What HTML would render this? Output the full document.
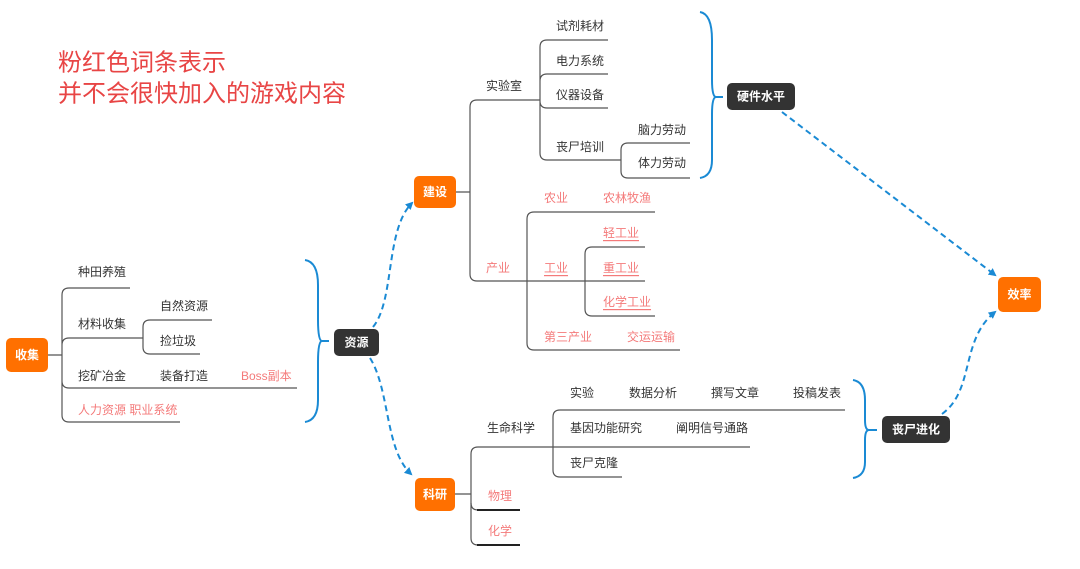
<!DOCTYPE html>
<html><head><meta charset="utf-8"><style>
html,body{margin:0;padding:0;background:#fff;}
svg{display:block;}
text{font-family:"Liberation Sans","Noto Sans CJK SC",sans-serif;font-size:12px;fill:#333;dominant-baseline:central;}
.p{fill:#f47a7a;}
.w{fill:#fff;font-weight:bold;text-anchor:middle;}
.t{fill:#e84545;font-size:24px;}
.l{stroke:#555;stroke-width:1.2;fill:none;}
.b{stroke:#1a8ad4;stroke-width:2;fill:none;}
.d{stroke:#1a8ad4;stroke-width:2;fill:none;stroke-dasharray:6,4;}
</style></head><body>
<svg width="1080" height="569" viewBox="0 0 1080 569" xmlns="http://www.w3.org/2000/svg">
<defs><marker id="a" markerWidth="8" markerHeight="8" refX="6" refY="4" orient="auto" markerUnits="userSpaceOnUse"><path d="M0,0 L8,4 L0,8 Z" fill="#1a8ad4"/></marker></defs>
<text class="t" x="58" y="63">粉红色词条表示</text>
<text class="t" x="58" y="94">并不会很快加入的游戏内容</text>

<!-- 收集 -->
<rect x="6" y="338" width="42" height="34" rx="5" fill="#ff7000"/>
<text class="w" x="27" y="355">收集</text>
<path class="l" d="M48,355 H62 M62,295 Q62,288 69,288 H130 M62,295 V415 Q62,422 69,422 H180 M62,345 Q62,338 69,338 H143 M62,381 Q62,388 69,388 H297"/>
<path class="l" d="M150,320 H212 M143,327 Q143,320 150,320 M143,327 V347 Q143,354 150,354 H200"/>
<text x="78" y="272">种田养殖</text>
<text x="78" y="324">材料收集</text>
<text x="160" y="306">自然资源</text>
<text x="160" y="341">捡垃圾</text>
<text x="78" y="376">挖矿冶金</text>
<text x="160" y="376">装备打造</text>
<text class="p" x="241" y="376">Boss副本</text>
<text class="p" x="78" y="410">人力资源 职业系统</text>
<path class="b" d="M305,260 Q318,262 318,285 V320 Q318,341 322,341 H329 M322,341 Q318,341 318,362 V400 Q318,420 305,422"/>

<!-- 资源 -->
<rect x="334" y="329" width="45" height="27" rx="5" fill="#333"/>
<text class="w" x="356.5" y="342.5">资源</text>
<path class="d" d="M373,327 C395,300 385,230 412,203" marker-end="url(#a)"/>
<path class="d" d="M370,358 C390,390 385,450 411,474" marker-end="url(#a)"/>

<!-- 建设 -->
<rect x="414" y="176" width="42" height="32" rx="5" fill="#ff7000"/>
<text class="w" x="435" y="192">建设</text>
<path class="l" d="M456,192 H470 M470,107 Q470,100 477,100 H540 M470,107 V274 Q470,281 477,281 H645"/>
<path class="l" d="M540,47 Q540,40 547,40 H608 M540,47 V153 Q540,160 547,160 H621 M540,81 Q540,74 547,74 H608 M540,101 Q540,108 547,108 H608"/>
<path class="l" d="M621,150 Q621,143 628,143 H690 M621,150 V171 Q621,178 628,178 H690"/>
<text x="486" y="86">实验室</text>
<text x="556" y="26">试剂耗材</text>
<text x="556" y="61">电力系统</text>
<text x="556" y="95">仪器设备</text>
<text x="556" y="147">丧尸培训</text>
<text x="638" y="130">脑力劳动</text>
<text x="638" y="163">体力劳动</text>
<path class="b" d="M700,12 Q712,14 712,40 V80 Q712,97 716,97 H723 M716,97 Q712,97 712,114 V160 Q712,176 700,178"/>
<rect x="727" y="83" width="68" height="27" rx="5" fill="#333"/>
<text class="w" x="761" y="96.5">硬件水平</text>

<path class="l" d="M527,219 Q527,212 534,212 H655 M527,219 V343 Q527,350 534,350 H680"/>
<path class="l" d="M585,254 Q585,247 592,247 H645 M585,254 V309 Q585,316 592,316 H655"/>
<text class="p" x="486" y="268">产业</text>
<text class="p" x="544" y="198">农业</text>
<text class="p" x="603" y="198">农林牧渔</text>
<text class="p" x="544" y="268" text-decoration="underline">工业</text>
<text class="p" x="603" y="233" text-decoration="underline">轻工业</text>
<text class="p" x="603" y="268" text-decoration="underline">重工业</text>
<text class="p" x="603" y="302" text-decoration="underline">化学工业</text>
<text class="p" x="544" y="337">第三产业</text>
<text class="p" x="627" y="337">交运运输</text>

<!-- 科研 -->
<rect x="415" y="478" width="40" height="33" rx="5" fill="#ff7000"/>
<text class="w" x="435" y="494.5">科研</text>
<path class="l" d="M455,494 H471 M471,454 Q471,447 478,447 H553 M471,454 V538 Q471,545 478,545"/>
<path class="l" d="M471,503 Q471,510 478,510"/>
<path d="M477,510 H520 M477,545 H520" stroke="#222" stroke-width="2"/>
<text x="487" y="428">生命科学</text>
<text class="p" x="488" y="496">物理</text>
<text class="p" x="488" y="531">化学</text>
<path class="l" d="M553,417 Q553,410 560,410 H845 M553,417 V470 Q553,477 560,477 H622 M553,447 H750"/>
<text x="570" y="393">实验</text>
<text x="629" y="393">数据分析</text>
<text x="711" y="393">撰写文章</text>
<text x="793" y="393">投稿发表</text>
<text x="570" y="428">基因功能研究</text>
<text x="676" y="428">阐明信号通路</text>
<text x="570" y="463">丧尸克隆</text>
<path class="b" d="M853,380 Q865,382 865,400 V420 Q865,430 869,430 H877 M869,430 Q865,430 865,440 V462 Q865,476 853,478"/>
<rect x="882" y="416" width="68" height="27" rx="5" fill="#333"/>
<text class="w" x="916" y="429.5">丧尸进化</text>

<rect x="998" y="277" width="43" height="35" rx="5" fill="#ff7000"/>
<text class="w" x="1019.5" y="294.5">效率</text>
<path class="d" d="M782,112 L995,275" marker-end="url(#a)"/>
<path class="d" d="M942,414 C975,390 960,340 995,312" marker-end="url(#a)"/>
</svg>
</body></html>
